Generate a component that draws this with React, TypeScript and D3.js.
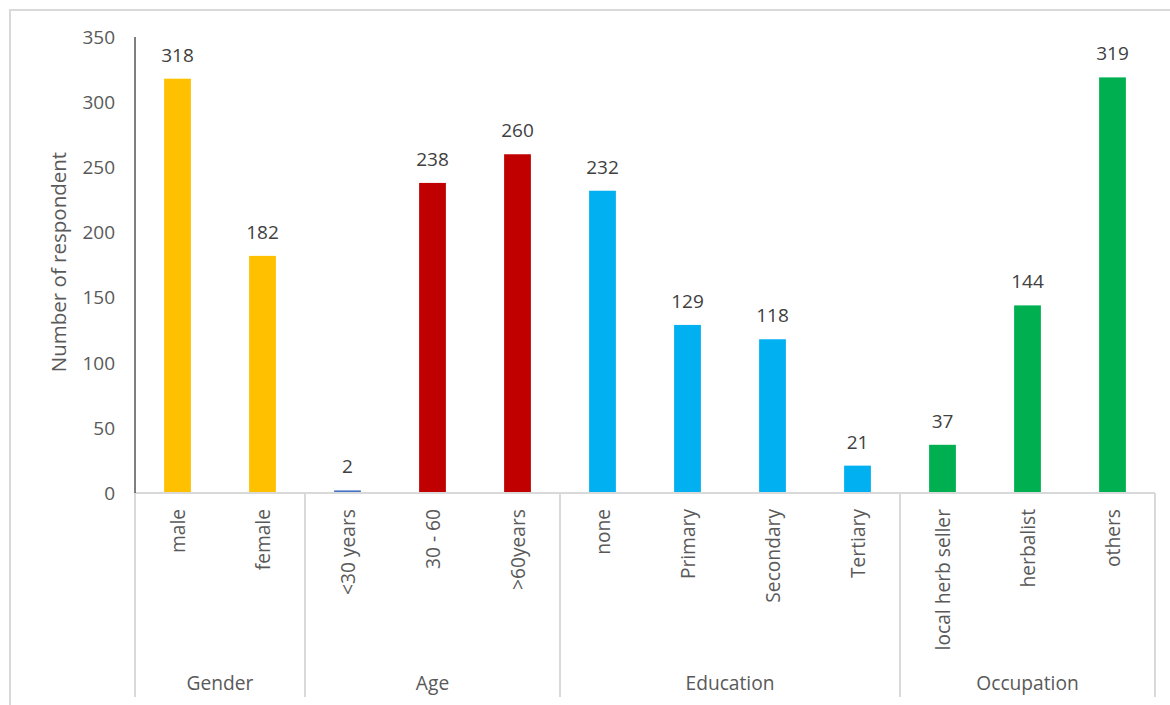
import React from "react";
import * as d3 from "d3";

const categories = ["male", "female", "<30 years", "30 - 60", ">60years", "none", "Primary", "Secondary", "Tertiary", "local herb seller", "herbalist", "others"];
const values = [318, 182, 2, 238, 260, 232, 129, 118, 21, 37, 144, 319];
const groupOf = ["Gender", "Gender", "Age", "Age", "Age", "Education", "Education", "Education", "Education", "Occupation", "Occupation", "Occupation"];
const groups = ["Gender", "Age", "Education", "Occupation"];
const barColors = ["#FFC000", "#FFC000", "#4472C4", "#C00000", "#C00000", "#00B0F0", "#00B0F0", "#00B0F0", "#00B0F0", "#00B050", "#00B050", "#00B050"];
const yTicks = [0, 50, 100, 150, 200, 250, 300, 350];
const yTitle = "Number of respondent";

const W = 1170, H = 705;
const left = 135, right = 1155, top = 37, bottom = 493, catBottom = 697;
const FONT = "'Open Sans', sans-serif";
const NUM = 19;
const TXT = 20.5;
const CAT = 19.2;

export default function App() {
  const x = d3.scaleBand<number>().domain(d3.range(categories.length)).range([left, right]).paddingInner(0.685).paddingOuter(0.3425);
  const y = d3.scaleLinear().domain([0, 350]).range([bottom, top]);
  const step = x.step();
  const bandStart = (i: number) => left + i * step;

  const groupRanges = groups.map((g) => {
    const idx = categories.map((_, i) => i).filter((i) => groupOf[i] === g);
    return { g, start: bandStart(idx[0]), end: bandStart(idx[idx.length - 1]) + step };
  });

  return (
    <div style={{ position: "fixed", left: 0, top: 0 }}>
      <svg width={W} height={H} style={{ display: "block", background: "#fff" }} fontFamily={FONT}>
        <rect x={10} y={10} width={1200} height={720} fill="#fff" stroke="#D9D9D9" strokeWidth={2} />
        {values.map((v, i) => (
          <rect key={i} x={x(i)} y={y(v)} width={x.bandwidth()} height={y(0) - y(v)} fill={barColors[i]} />
        ))}
        {values.map((v, i) => (
          <text key={"v" + i} x={x(i)! + x.bandwidth() / 2} y={y(v) - 17} textAnchor="middle" fontSize={NUM} fill="#404040">{v}</text>
        ))}
        <line x1={left} x2={right} y1={y(0)} y2={y(0)} stroke="#D9D9D9" strokeWidth={2} />
        {[left, ...groupRanges.map((r) => r.end)].map((sx, i) => (
          <line key={"s" + i} x1={sx} x2={sx} y1={y(0)} y2={catBottom} stroke="#D9D9D9" strokeWidth={2} />
        ))}
        <line x1={left} x2={left} y1={top} y2={bottom} stroke="#000" strokeWidth={1} />
        {yTicks.map((t) => (
          <text key={"t" + t} x={115} y={y(t)} dy="0.36em" textAnchor="end" fontSize={NUM} fill="#595959">{t}</text>
        ))}
        <text transform={`translate(66,262) rotate(-90)`} textAnchor="middle" fontSize={TXT} fill="#595959">{yTitle}</text>
        {categories.map((c, i) => (
          <text key={"c" + i} transform={`translate(${x(i)! + x.bandwidth() / 2},509) rotate(-90)`} dy={7} textAnchor="end" fontSize={CAT} fill="#595959">{c}</text>
        ))}
        {groupRanges.map((r) => (
          <text key={r.g} x={(r.start + r.end) / 2} y={690} textAnchor="middle" fontSize={CAT} fill="#595959">{r.g}</text>
        ))}
      </svg>
    </div>
  );
}
